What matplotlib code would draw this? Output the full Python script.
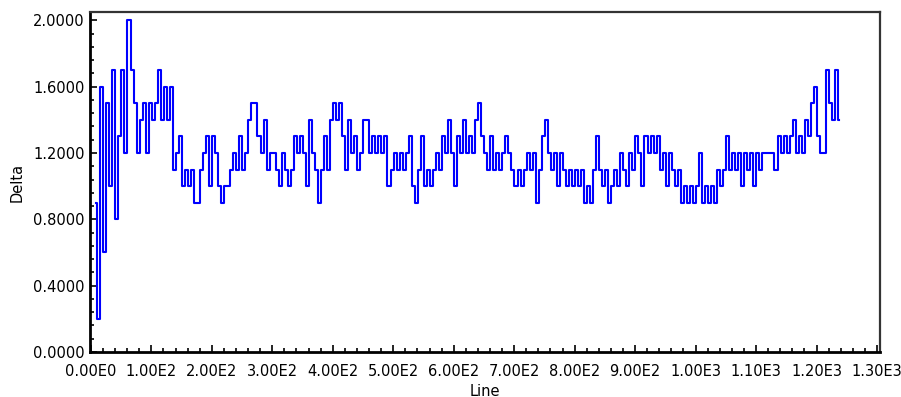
import numpy as np
import matplotlib
matplotlib.use('Agg')
from matplotlib import pyplot as plt
from matplotlib.ticker import MultipleLocator, FuncFormatter

# delta values x10, one every 5 lines starting at line 8
delta_x10 = [
    9, 2, 16, 6, 15, 10, 17, 8, 13, 17,
    12, 20, 17, 15, 12, 14, 15, 12, 15, 14,
    15, 17, 14, 16, 14, 16, 11, 12, 13, 10,
    11, 10, 11,
    9, 9, 11, 12, 13, 10, 13, 12, 10, 9,
    10, 10, 11, 12, 11, 13, 11, 12, 14, 15,
    15, 13, 12, 14, 11, 12, 12,
    11, 10, 12, 11, 10, 11, 13, 12, 13, 12,
    10, 14, 12, 11, 9, 11, 13, 11, 14, 15,
    14, 15, 13, 11, 14, 12, 13, 11, 12, 14,
    14, 12, 13, 12, 13, 12, 13, 10, 11, 12,
    11, 12, 11, 12, 13, 10, 9, 11, 13, 10,
    11, 10, 11, 12, 11, 13, 12, 14, 12, 10,
    13, 12, 14,
    12, 13, 12, 14, 15, 13, 12, 11, 13, 11,
    12, 11, 12, 13, 12, 11, 10, 11, 10, 11,
    12, 11, 12, 9, 11, 13, 14, 12, 11, 12,
    10, 12, 11, 10, 11, 10, 11, 10, 11, 9,
    10, 9, 11, 13, 11, 10, 11, 9, 10, 11,
    10, 12, 11, 10, 12, 11, 13, 12, 10, 13,
    12, 13, 12,
    13, 11, 12, 10, 12, 11, 10, 11, 9, 10,
    9, 10, 9, 10, 12, 9, 10, 9, 10, 9,
    11, 10, 11, 13, 11, 12, 11, 12, 10, 12,
    11, 12, 10, 12, 11, 12, 12, 12, 12, 11,
    13, 12, 13, 12, 13, 14, 12, 13, 12, 14,
    13, 15, 16, 13, 12, 12, 17, 15, 14, 17,
    14,
]
first_line = 8
line_step = 5

delta = np.array(delta_x10) / 10.0
lines = first_line + line_step * np.arange(len(delta))


def sci_fmt(v, pos):
    if v == 0:
        return '0.00E0'
    e = int(np.floor(np.log10(abs(v))))
    m = v / 10 ** e
    return f'{m:.2f}E{e}'


fig = plt.figure(figsize=(9.01, 3.97), dpi=100)
ax = fig.add_axes([90 / 901, 45 / 397, 790 / 901, 340 / 397])
ax.plot(lines, delta, color='#0000ff', lw=1.5, drawstyle='steps-mid')

ax.set_xlim(-1.5, 1305)
ax.set_ylim(0, 2.05)
ax.xaxis.set_major_locator(MultipleLocator(100))
ax.xaxis.set_minor_locator(MultipleLocator(20))
ax.yaxis.set_major_locator(MultipleLocator(0.4))
ax.yaxis.set_minor_locator(MultipleLocator(0.08))
ax.xaxis.set_major_formatter(FuncFormatter(sci_fmt))
ax.yaxis.set_major_formatter(FuncFormatter(lambda v, p: f'{v:.4f}'))

ax.tick_params(which='both', direction='in', top=False, right=False,
               labelsize=10.5, width=1.2)
ax.tick_params(axis='x', which='major', pad=9)
ax.tick_params(axis='y', which='major', pad=4)
ax.tick_params(which='major', length=5)
ax.tick_params(which='minor', length=3)
for s in ['left', 'bottom']:
    ax.spines[s].set_linewidth(2.0)
for s in ['top', 'right']:
    ax.spines[s].set_linewidth(1.6)
    ax.spines[s].set_color('#333333')

ax.set_xlabel('Line', fontsize=10.5, labelpad=3)
ax.set_ylabel('Delta', fontsize=10.5, labelpad=6)

fig.savefig('out.png', dpi=100)
